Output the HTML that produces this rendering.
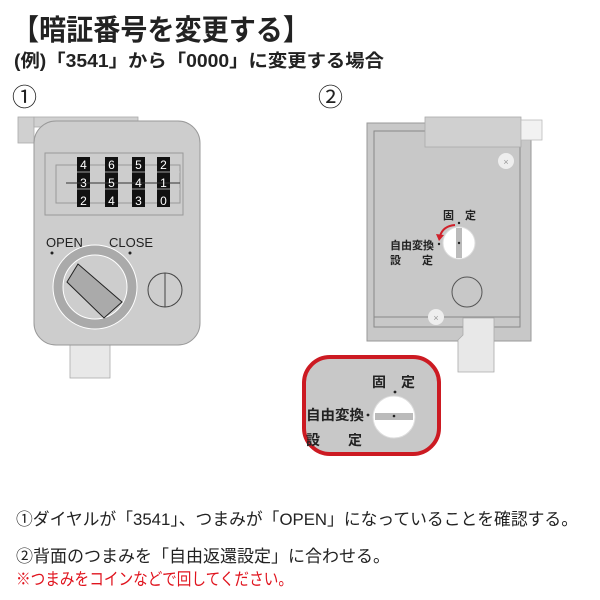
<!DOCTYPE html>
<html><head><meta charset="utf-8"><style>
body{margin:0;width:600px;height:600px;background:#fff;overflow:hidden}
svg{display:block}
text{font-family:"Liberation Sans","Noto Sans CJK JP",sans-serif}
</style></head><body>
<svg width="600" height="600" viewBox="0 0 600 600">
<text x="12" y="40" font-size="29" font-weight="bold" fill="#222" textLength="298" lengthAdjust="spacingAndGlyphs">【暗証番号を変更する】</text>
<text x="14" y="67" font-size="18" font-weight="bold" fill="#222" textLength="370" lengthAdjust="spacingAndGlyphs">(例)「3541」から「0000」に変更する場合</text>
<text x="12" y="106" font-size="25" fill="#222">①</text>
<text x="318" y="106" font-size="25" fill="#222">②</text>

<!-- device 1 -->
<rect x="18" y="117" width="16" height="26" fill="#d0d0d0" stroke="#aaa" stroke-width="0.8"/>
<rect x="34" y="117" width="104" height="10" fill="#d0d0d0" stroke="#aaa" stroke-width="0.8"/>
<rect x="70" y="340" width="40" height="38" fill="#e8e8e8" stroke="#aaa" stroke-width="0.8"/>
<rect x="34" y="121" width="166" height="224" rx="22" fill="#cdcdcd" stroke="#999" stroke-width="1"/>
<rect x="45" y="153" width="138" height="62" fill="#cdcdcd" stroke="#999" stroke-width="1"/>
<rect x="56" y="165" width="124" height="38" fill="none" stroke="#999" stroke-width="1"/>
<g fill="#111">
<rect x="77" y="157" width="13" height="50"/><rect x="105" y="157" width="13" height="50"/>
<rect x="132" y="157" width="13" height="50"/><rect x="157" y="157" width="13" height="50"/>
</g>
<g stroke="#ccc" stroke-width="0.8"><line x1="66" y1="172" x2="180" y2="172"/><line x1="66" y1="189" x2="180" y2="189"/></g>
<line x1="66" y1="183" x2="180" y2="183" stroke="#333" stroke-width="1"/>
<g fill="#fff" font-size="12" text-anchor="middle">
<text x="83.5" y="169">4</text><text x="111.5" y="169">6</text><text x="138.5" y="169">5</text><text x="163.5" y="169">2</text>
<text x="83.5" y="187">3</text><text x="111.5" y="187">5</text><text x="138.5" y="187">4</text><text x="163.5" y="187">1</text>
<text x="83.5" y="205">2</text><text x="111.5" y="205">4</text><text x="138.5" y="205">3</text><text x="163.5" y="205">0</text>
</g>
<text x="46" y="247" font-size="13" fill="#222">OPEN</text>
<text x="109" y="247" font-size="13" fill="#222">CLOSE</text>
<circle cx="52" cy="253" r="1.5" fill="#222"/><circle cx="130" cy="253" r="1.5" fill="#222"/>
<circle cx="95" cy="287" r="37" fill="#cdcdcd" stroke="#aaa" stroke-width="10"/>
<circle cx="95" cy="287" r="42" fill="none" stroke="#fff" stroke-width="1"/>
<circle cx="95" cy="287" r="32" fill="none" stroke="#fff" stroke-width="1"/>
<polygon points="67,282 78,264 122,302 104,318" fill="#aaa" stroke="#222" stroke-width="1"/>
<circle cx="165" cy="290" r="17" fill="#cdcdcd" stroke="#444" stroke-width="1"/>
<line x1="165" y1="273" x2="165" y2="307" stroke="#444" stroke-width="1"/>

<!-- device 2 -->
<rect x="367" y="123" width="164" height="218" fill="#c8c8c8" stroke="#999" stroke-width="1"/>
<rect x="374" y="131" width="146" height="196" fill="#c8c8c8" stroke="#888" stroke-width="1"/>
<line x1="374" y1="317" x2="520" y2="317" stroke="#888" stroke-width="1"/>
<polygon points="463,318 494,318 494,372 458,372 458,340 463,335" fill="#e8e8e8" stroke="#aaa" stroke-width="0.8"/>
<rect x="425" y="117" width="96" height="30" fill="#d0d0d0" stroke="#aaa" stroke-width="0.8"/>
<rect x="521" y="120" width="21" height="20" fill="#f2f2f2" stroke="#bbb" stroke-width="0.8"/>
<circle cx="506" cy="161" r="8" fill="#eee"/><text x="506" y="165" font-size="9" fill="#999" text-anchor="middle">×</text>
<circle cx="436" cy="317" r="8" fill="#eee"/><text x="436" y="321" font-size="9" fill="#999" text-anchor="middle">×</text>
<circle cx="467" cy="292" r="15" fill="none" stroke="#555" stroke-width="1"/>
<text x="443" y="219" font-size="11" font-weight="bold" fill="#222">固</text>
<text x="465" y="219" font-size="11" font-weight="bold" fill="#222">定</text>
<circle cx="459" cy="223" r="1.2" fill="#222"/>
<text x="390" y="249" font-size="11" font-weight="bold" fill="#222">自由変換</text>
<text x="390" y="264" font-size="11" font-weight="bold" fill="#222">設</text>
<text x="422" y="264" font-size="11" font-weight="bold" fill="#222">定</text>
<circle cx="439" cy="244" r="1.2" fill="#222"/>
<circle cx="459" cy="243" r="16" fill="#fff" stroke="#ddd" stroke-width="1"/>
<rect x="456" y="228" width="6" height="30" fill="#bbb"/>
<circle cx="459" cy="243" r="1.2" fill="#222"/>
<path d="M455,225 Q443,226 440,236" fill="none" stroke="#d0202a" stroke-width="2"/>
<polygon points="436,234 444,235 439,241" fill="#d0202a"/>

<!-- callout -->
<rect x="304" y="357" width="135" height="97" rx="26" fill="#c8c8c8" stroke="#cc1a22" stroke-width="4"/>
<text x="372" y="387" font-size="14" font-weight="bold" fill="#222">固</text>
<text x="401" y="387" font-size="14" font-weight="bold" fill="#222">定</text>
<circle cx="395" cy="392" r="1.4" fill="#222"/>
<text x="306" y="420" font-size="14" font-weight="bold" fill="#222" textLength="58" lengthAdjust="spacingAndGlyphs">自由変換</text>
<circle cx="368" cy="415" r="1.4" fill="#222"/>
<text x="306" y="445" font-size="14" font-weight="bold" fill="#222">設</text>
<text x="348" y="445" font-size="14" font-weight="bold" fill="#222">定</text>
<circle cx="394" cy="417" r="21" fill="#fff" stroke="#ddd" stroke-width="1"/>
<rect x="375" y="413" width="38" height="7" fill="#bbb"/>
<circle cx="394" cy="416" r="1.3" fill="#222"/>

<!-- bottom text -->
<text x="16" y="525" font-size="17" fill="#222" textLength="562" lengthAdjust="spacingAndGlyphs">①ダイヤルが「3541」、つまみが「OPEN」になっていることを確認する。</text>
<text x="16" y="562" font-size="17" fill="#222" textLength="374" lengthAdjust="spacingAndGlyphs">②背面のつまみを「自由返還設定」に合わせる。</text>
<text x="16" y="585" font-size="17" fill="#e0141e" textLength="277" lengthAdjust="spacingAndGlyphs">※つまみをコインなどで回してください。</text>
</svg>
</body></html>
